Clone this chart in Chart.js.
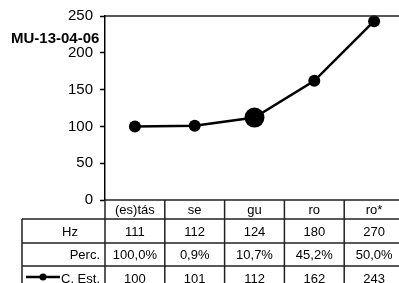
<!DOCTYPE html>
<html>
<head>
<meta charset="utf-8">
<script src="https://cdn.jsdelivr.net/npm/chart.js@4/dist/chart.umd.min.js"></script>
<style>
  html, body { margin: 0; padding: 0; background: #fff; overflow: hidden; }
  #wrap { width: 410px; height: 283px; }
</style>
</head>
<body>
<div id="wrap"><canvas id="myChart" width="410" height="283"></canvas></div>
<script>
const titleText = "MU-13-04-06";
const categories = ["(es)tás", "se", "gu", "ro", "ro*"];
const hzValues = ["111", "112", "124", "180", "270"];
const percValues = ["100,0%", "0,9%", "10,7%", "45,2%", "50,0%"];
const estValues = [100, 101, 112, 162, 243];
const pointSizes = [6, 6, 10, 6, 6];
const yTicks = [0, 50, 100, 150, 200, 250];

const FONT = "'Liberation Sans', Arial, sans-serif";

// dibuja la tabla de datos y el titulo
const tablePlugin = {
    id: "tablePlugin",
    afterDraw(chart) {
        const ctx = chart.ctx;
        const area = chart.chartArea;
        const xs = chart.scales.x;
        const colW = xs.getPixelForValue(1) - xs.getPixelForValue(0);
        const left = 22;
        const rowTops = [area.bottom, 219, 243, 266, 290];
        ctx.save();
        ctx.strokeStyle = "#222";
        ctx.lineWidth = 1.5;

        // frame top line
        ctx.beginPath();
        ctx.moveTo(area.left, area.top);
        ctx.lineTo(area.right, area.top);
        ctx.moveTo(area.right, area.top);
        ctx.lineTo(area.right, area.bottom);
        ctx.stroke();

        // horizontal lines
        ctx.beginPath();
        ctx.moveTo(area.left, rowTops[0]);
        ctx.lineTo(area.right, rowTops[0]);
        for (let r = 1; r < rowTops.length; r++) {
            ctx.moveTo(left, rowTops[r]);
            ctx.lineTo(area.right, rowTops[r]);
        }
        // vertical lines
        for (let i = 0; i <= categories.length; i++) {
            const x = area.left + i * colW;
            ctx.moveTo(x, rowTops[0]);
            ctx.lineTo(x, rowTops[4]);
        }
        ctx.moveTo(left, rowTops[1]);
        ctx.lineTo(left, rowTops[4]);
        ctx.stroke();

        ctx.fillStyle = "#000";
        ctx.font = "13px " + FONT;
        ctx.textBaseline = "middle";
        ctx.textAlign = "center";
        const rows = [categories, hzValues, percValues, estValues];
        for (let r = 0; r < rows.length; r++) {
            const cy = (rowTops[r] + rowTops[r + 1]) / 2 + 1;
            rows[r].forEach((v, i) => {
                ctx.fillText(String(v), xs.getPixelForValue(i), cy);
            });
        }

        // row labels
        ctx.fillText("Hz", 70, (rowTops[1] + rowTops[2]) / 2 + 1);
        ctx.textAlign = "right";
        ctx.fillText("Perc.", 100, (rowTops[2] + rowTops[3]) / 2 + 1);
        const ly = (rowTops[3] + rowTops[4]) / 2 - 1;
        ctx.fillText("C. Est.", 100, ly + 2);
        ctx.lineWidth = 2.5;
        ctx.strokeStyle = "#000";
        ctx.beginPath();
        ctx.moveTo(26, ly);
        ctx.lineTo(60, ly);
        ctx.stroke();
        ctx.beginPath();
        ctx.arc(43, ly, 3.5, 0, Math.PI * 2);
        ctx.fill();

        // titulo
        ctx.font = "bold 15px " + FONT;
        ctx.textAlign = "left";
        ctx.fillText(titleText, 11, 39);
        ctx.restore();
    }
};

const ctx = document.getElementById("myChart").getContext("2d");
const myChart = new Chart(ctx, {
    type: "line",
    data: {
        labels: categories,
        datasets: [
            {
                label: "C. Est.",
                data: estValues,
                borderColor: "#000",
                backgroundColor: "#000",
                borderWidth: 2.5,
                pointRadius: pointSizes,
                pointHoverRadius: pointSizes,
                pointBackgroundColor: "#000",
                pointBorderWidth: 0,
                clip: false,
                tension: 0
            }
        ]
    },
    options: {
        responsive: false,
        animation: false,
        events: [],
        layout: { padding: { top: 14, bottom: 83, left: 0, right: 5 } },
        plugins: { legend: { display: false }, tooltip: { enabled: false } },
        scales: {
            x: {
                display: false,
                offset: true
            },
            y: {
                min: 0,
                max: 250,
                afterFit(scale) { scale.width = 105; },
                afterBuildTicks(scale) { scale.ticks = yTicks.map(v => ({ value: v })); },
                grid: {
                    drawOnChartArea: false,
                    tickLength: 5,
                    tickColor: "#000",
                    tickWidth: 1.5
                },
                border: { display: true, color: "#000", width: 1.5 },
                ticks: {
                    color: "#000",
                    padding: 7,
                    font: { family: "'Liberation Sans', Arial, sans-serif", size: 15 }
                }
            }
        }
    },
    plugins: [tablePlugin]
});
</script>
</body>
</html>
